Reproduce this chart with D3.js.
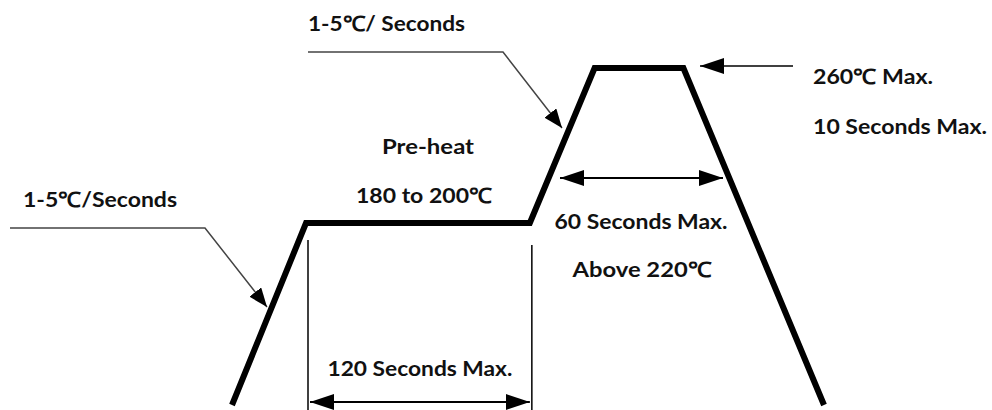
<!DOCTYPE html>
<html><head><meta charset="utf-8">
<script src="https://cdn.jsdelivr.net/npm/d3@7"></script>
<style>html,body{margin:0;padding:0;background:#fff;}svg{display:block;}</style>
</head><body>
<svg id="c" width="992" height="410"></svg>
<script>
// ---- data (schematic reflow profile) ----
const profileTime  = [0, 40, 161, 196, 244, 320];   // schematic time units
const profileLevel = [0, 54, 54, 100, 100, 0];      // schematic temperature level
const preheatLabels = ["Pre-heat", "180 to 200\u2103"];
const peakLabels = ["260\u2103 Max.", "10 Seconds Max."];
const reflowLabels = ["60 Seconds Max.", "Above 220\u2103"];
const soakLabel = "120 Seconds Max.";
const rampLabels = ["1-5\u2103/Seconds", "1-5\u2103/ Seconds"];

const svg = d3.select("#c");
const x = d3.scaleLinear().domain([0, 320]).range([232, 824]);
const y = d3.scaleLinear().domain([0, 100]).range([405, 68]);

const defs = svg.append("defs");
function marker(id, len, half) {
  defs.append("marker").attr("id", id)
    .attr("viewBox", `0 ${-half} ${len} ${2*half}`)
    .attr("refX", len).attr("refY", 0)
    .attr("markerUnits", "userSpaceOnUse")
    .attr("markerWidth", len).attr("markerHeight", 2*half)
    .attr("orient", "auto-start-reverse")
    .append("path").attr("d", `M0,${-half}L${len},0L0,${half}Z`).attr("fill", "#000");
}
marker("ah", 24, 8);
marker("lh", 19, 7.5);

const pts = profileTime.map((t, i) => [x(t), y(profileLevel[i])]);

// profile
svg.append("path")
  .attr("d", d3.line()(pts))
  .attr("fill", "none").attr("stroke", "#000")
  .attr("stroke-width", 6).attr("stroke-linejoin", "miter");

const font = "Lato, 'Open Sans', sans-serif";
function label(txt, px, py, anchor, len) {
  const t = svg.append("text").text(txt)
    .attr("x", px).attr("y", py)
    .attr("text-anchor", anchor)
    .attr("dominant-baseline", "central")
    .attr("font-family", font).attr("font-weight", 700)
    .attr("font-size", 21).attr("fill", "#111");
  if (len) t.attr("textLength", len).attr("lengthAdjust", "spacingAndGlyphs");
  return t;
}

// soak dimension (120 s)
const xs = pts[1][0] + 2, xe = pts[2][0] + 2;
svg.append("line").attr("x1", xs).attr("x2", xs).attr("y1", 240).attr("y2", 410)
  .attr("stroke", "#000").attr("stroke-width", 1.5);
svg.append("line").attr("x1", xe).attr("x2", xe).attr("y1", 245).attr("y2", 410)
  .attr("stroke", "#000").attr("stroke-width", 1.5);
svg.append("line").attr("x1", xs + 2).attr("x2", xe - 2).attr("y1", 402).attr("y2", 402)
  .attr("stroke", "#000").attr("stroke-width", 2)
  .attr("marker-start", "url(#ah)").attr("marker-end", "url(#ah)");
label(soakLabel, (xs + xe) / 2, 367, "middle", 185);

// reflow dimension (60 s)
svg.append("line").attr("x1", 560).attr("x2", 723).attr("y1", 178).attr("y2", 178)
  .attr("stroke", "#000").attr("stroke-width", 2)
  .attr("marker-start", "url(#ah)").attr("marker-end", "url(#ah)");
label(reflowLabels[0], 641, 220, "middle", 173);
label(reflowLabels[1], 642, 268, "middle", 139);

// peak arrow
svg.append("line").attr("x1", 793).attr("x2", 700).attr("y1", 66).attr("y2", 66)
  .attr("stroke", "#000").attr("stroke-width", 1.5)
  .attr("marker-end", "url(#ah)");
label(peakLabels[0], 813, 75, "start", 120);
label(peakLabels[1], 813, 125, "start", 174);

// preheat labels
label(preheatLabels[0], 428, 145, "middle", 92);
label(preheatLabels[1], 424, 194, "middle", 136);

// left ramp leader
svg.append("path").attr("d", "M10,228L205,228L267,307")
  .attr("fill", "none").attr("stroke", "#444").attr("stroke-width", 1.5)
  .attr("marker-end", "url(#lh)");
label(rampLabels[0], 23, 198, "start", 154);

// top ramp leader
svg.append("path").attr("d", "M308,52L503,52L562,128")
  .attr("fill", "none").attr("stroke", "#444").attr("stroke-width", 1.5)
  .attr("marker-end", "url(#lh)");
label(rampLabels[1], 308, 22, "start", 157);
</script>
</body></html>
